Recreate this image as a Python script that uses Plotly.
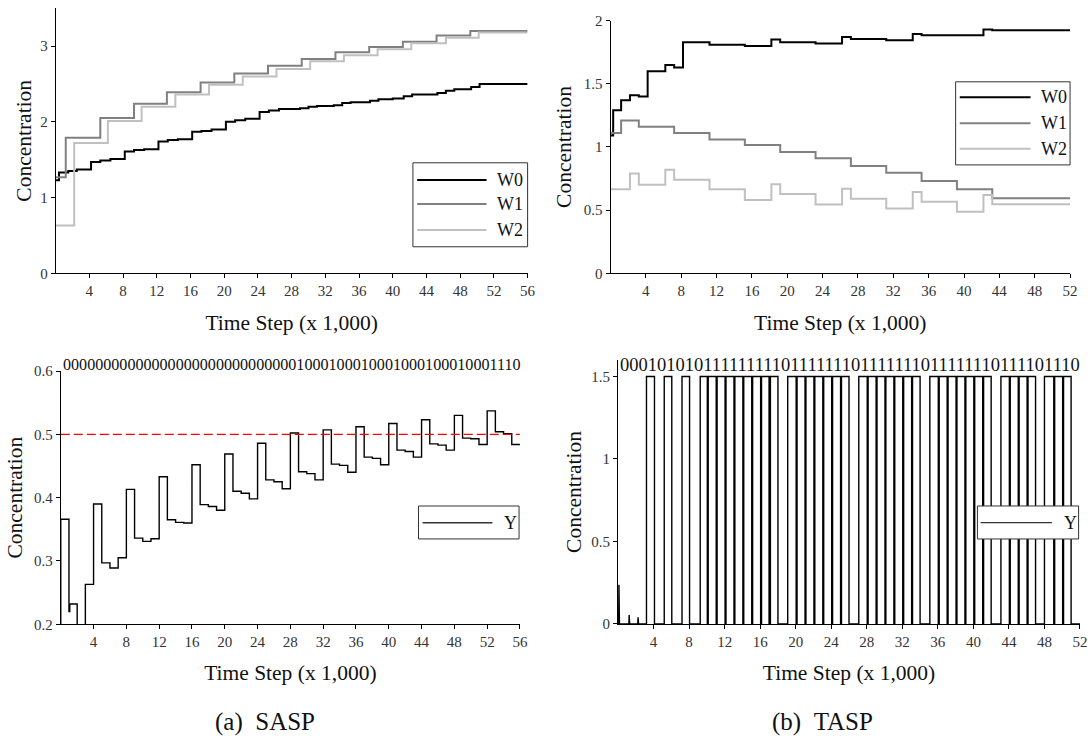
import plotly.graph_objects as go

# ---------------- data ----------------
# (a) SASP, top: weights (step functions, value holds from each time)
sasp_w0_t = [0, 0.4, 1.5, 2.5, 4.2, 5.3, 6.5, 8.2, 9.3, 10.5, 12.2, 13.3, 14.5, 16.2, 17.3, 18.5,
             20.2, 21.3, 22.5, 24.2, 25.3, 26.5, 29.0, 30.0, 31.0, 33.0, 34.0, 35.0, 37.3, 38.3,
             40.0, 41.3, 42.3, 45.3, 46.3, 47.3, 49.3, 50.3, 56]
sasp_w0_v = [1.23, 1.33, 1.35, 1.37, 1.47, 1.49, 1.51, 1.61, 1.63, 1.64, 1.74, 1.76, 1.77, 1.87, 1.88, 1.90,
             2.00, 2.02, 2.04, 2.13, 2.15, 2.17, 2.18, 2.20, 2.21, 2.22, 2.25, 2.26, 2.28, 2.30,
             2.31, 2.34, 2.36, 2.38, 2.41, 2.43, 2.46, 2.50, 2.50]
sasp_w1_t = [0, 1.2, 5.3, 9.3, 13.2, 17.2, 21.2, 25.2, 29.2, 33.2, 37.2, 41.2, 45.2, 49.2, 56]
sasp_w1_v = [1.27, 1.79, 2.05, 2.24, 2.39, 2.52, 2.64, 2.74, 2.83, 2.92, 2.99, 3.06, 3.14, 3.20, 3.20]
sasp_w2_t = [0, 2.2, 6.2, 10.2, 14.2, 18.2, 22.2, 26.2, 30.2, 34.2, 38.2, 42.2, 46.3, 50.2, 56]
sasp_w2_v = [0.63, 1.72, 2.01, 2.20, 2.36, 2.49, 2.60, 2.70, 2.80, 2.88, 2.96, 3.04, 3.11, 3.18, 3.18]

# (b) TASP, top: weights
tasp_w0_t = [0, 0.3, 1.2, 2.2, 3.2, 4.2, 6.2, 7.2, 8.2, 11.2, 15.2, 18.2, 19.2, 23.2, 26.2, 27.2,
             31.2, 34.2, 35.2, 42.2, 43.2, 52]
tasp_w0_v = [1.09, 1.29, 1.37, 1.41, 1.40, 1.60, 1.65, 1.63, 1.83, 1.81, 1.80, 1.85, 1.83, 1.82, 1.87, 1.855,
             1.845, 1.895, 1.885, 1.93, 1.925, 1.925]
tasp_w1_t = [0, 1.2, 3.2, 7.2, 11.2, 15.2, 19.2, 23.2, 27.2, 31.2, 35.2, 39.2, 43.2, 52]
tasp_w1_v = [1.11, 1.21, 1.16, 1.11, 1.06, 1.015, 0.96, 0.91, 0.85, 0.795, 0.73, 0.665, 0.595, 0.595]
tasp_w2_t = [0, 2.2, 3.2, 6.2, 7.2, 11.2, 15.2, 18.2, 19.2, 23.2, 26.2, 27.2, 31.2, 34.2, 35.2, 39.2,
             42.2, 43.2, 52]
tasp_w2_v = [0.665, 0.79, 0.70, 0.82, 0.74, 0.665, 0.58, 0.705, 0.628, 0.545, 0.67, 0.59, 0.512, 0.643,
             0.567, 0.488, 0.62, 0.546, 0.546]

# (a) SASP, bottom: output Y (step function)
sasp_y_t = [0, 0, 1.0, 1.1, 2.0, 3.0, 4, 5, 6, 7, 8, 9, 10, 11, 12, 13, 14, 15, 16, 17, 18, 19, 20,
            21, 22, 23, 24, 25, 26, 27, 28, 29, 30, 31, 32, 33, 34, 35, 36, 37, 38, 39, 40, 41, 42,
            43, 44, 45, 46, 47, 48, 49, 50, 51, 52, 53, 54, 55, 56]
sasp_y_v = [0.10, 0.366, 0.220, 0.232, 0.12, 0.263,
            0.390, 0.297, 0.289, 0.305,
            0.413, 0.336, 0.331, 0.335,
            0.433, 0.365, 0.361, 0.360,
            0.452, 0.389, 0.386, 0.380,
            0.469, 0.410, 0.407, 0.398,
            0.486, 0.428, 0.425, 0.414,
            0.502, 0.441, 0.438, 0.428,
            0.507, 0.453, 0.451, 0.440,
            0.512, 0.464, 0.462, 0.452,
            0.517, 0.475, 0.473, 0.464,
            0.523, 0.485, 0.483, 0.475,
            0.530, 0.494, 0.493, 0.484,
            0.537, 0.504, 0.501, 0.484, 0.484]
sasp_threshold = 0.5
sasp_bits = "000000000000000000000000000001000100010001000100010001110"

# (b) TASP, bottom: output Y pulses
tasp_spike_t = [0.1, 1.25, 2.25]
tasp_spike_v = [0.237, 0.055, 0.04]
tasp_pulse_high = 1.5
tasp_pulse_on = [3.2, 5.2, 7.2,
                 9.25, 10.15, 11.15, 12.15, 13.15, 14.15, 15.15, 16.15, 17.15,
                 19.1, 20.15, 21.15, 22.15, 23.15, 24.15, 25.15,
                 27.1, 28.15, 29.15, 30.15, 31.15, 32.15, 33.15,
                 35.1, 36.15, 37.15, 38.15, 39.15, 40.15, 41.15,
                 43.1, 44.15, 45.15, 46.15,
                 48.0, 49.15, 50.15]
tasp_pulse_off = [4.1, 6.05, 8.05,
                  10.05, 11.05, 12.05, 13.05, 14.05, 15.05, 16.05, 17.0, 18.0,
                  20.05, 21.05, 22.05, 23.05, 24.05, 25.05, 26.0,
                  28.05, 29.05, 30.05, 31.05, 32.05, 33.05, 34.0,
                  36.05, 37.05, 38.05, 39.05, 40.05, 41.05, 42.0,
                  44.05, 45.05, 46.05, 47.0,
                  49.05, 50.05, 51.0]
tasp_end = 52
tasp_bits = "0001010101111111110111111101111111011111110111101110"

x_ticks_sasp = list(range(4, 57, 4))
x_ticks_tasp = list(range(4, 53, 4))

# ---------------- figure ----------------
SERIF = "Liberation Serif"
C_W0, C_W1, C_W2 = "#000000", "#808080", "#c0c0c0"

fig = go.Figure()


def step(x, y, color, width, xa, ya, name):
    fig.add_trace(go.Scatter(x=x, y=y, mode="lines", name=name, showlegend=False,
                             line=dict(color=color, width=width, shape="hv"),
                             xaxis=xa, yaxis=ya))


step(sasp_w0_t, sasp_w0_v, C_W0, 2, "x", "y", "W0")
step(sasp_w1_t, sasp_w1_v, C_W1, 2, "x", "y", "W1")
step(sasp_w2_t, sasp_w2_v, C_W2, 2, "x", "y", "W2")

step(tasp_w0_t, tasp_w0_v, C_W0, 2, "x2", "y2", "W0")
step(tasp_w1_t, tasp_w1_v, C_W1, 2, "x2", "y2", "W1")
step(tasp_w2_t, tasp_w2_v, C_W2, 2, "x2", "y2", "W2")

step(sasp_y_t, sasp_y_v, "#000000", 1.4, "x3", "y3", "Y")
fig.add_trace(go.Scatter(x=[0, 56], y=[sasp_threshold, sasp_threshold], mode="lines",
                         showlegend=False, name="threshold",
                         line=dict(color="#ff0000", width=1.4, dash="9px,4px"),
                         xaxis="x3", yaxis="y3"))

# pulse train for TASP Y
px, py = [0], [0]
for t, h in zip(tasp_spike_t, tasp_spike_v):
    px += [t - 0.03, t, t + 0.06]
    py += [0, h, 0]
for on, off in zip(tasp_pulse_on, tasp_pulse_off):
    px += [on, on, off, off]
    py += [0, tasp_pulse_high, tasp_pulse_high, 0]
px.append(tasp_end)
py.append(0)
fig.add_trace(go.Scatter(x=px, y=py, mode="lines", name="Y", showlegend=False,
                         line=dict(color="#000000", width=1.4), xaxis="x4", yaxis="y4"))

tickfont = dict(family=SERIF, size=15, color="#333333")
titlefont = dict(family=SERIF, size=21.5, color="#111111")


def xax(domain, rng, ticks, anchor, standoff):
    return dict(domain=domain, range=rng, tickvals=ticks, ticktext=[str(v) for v in ticks],
                showline=True, linecolor="#000000", linewidth=1, ticks="outside", ticklen=4,
                tickcolor="#000000", showgrid=False, zeroline=False, tickfont=tickfont,
                automargin=False, anchor=anchor,
                title=dict(text="Time Step (x 1,000)", font=titlefont, standoff=standoff))


def yax(domain, rng, ticks, labels, anchor, standoff):
    return dict(domain=domain, range=rng, tickvals=ticks, ticktext=labels,
                showline=True, linecolor="#000000", linewidth=1, ticks="outside", ticklen=4,
                tickcolor="#000000", showgrid=False, zeroline=False, tickfont=tickfont,
                automargin=False, anchor=anchor,
                title=dict(text="Concentration", font=titlefont, standoff=standoff))


fig.update_layout(
    width=1091, height=736, margin=dict(l=0, r=0, t=0, b=0, autoexpand=False),
    paper_bgcolor="white", plot_bgcolor="white", showlegend=False,
    xaxis=xax([0.0510, 0.4836], [0, 56], x_ticks_sasp, "y", 16),
    yaxis=yax([0.6287, 0.9887], [0, 3.5], [0, 1, 2, 3], ["0", "1", "2", "3"], "x", 2),
    xaxis2=xax([0.5596, 0.9808], [0, 52], x_ticks_tasp, "y2", 16),
    yaxis2=yax([0.6287, 0.9719], [0, 2], [0, 0.5, 1, 1.5, 2], ["0", "0.5", "1", "1.5", "2"], "x2", 6),
    xaxis3=xax([0.0557, 0.4766], [0, 56], x_ticks_sasp, "y3", 15),
    yaxis3=yax([0.1518, 0.4959], [0.2, 0.6], [0.2, 0.3, 0.4, 0.5, 0.6],
               ["0.2", "0.3", "0.4", "0.5", "0.6"], "x3", 5),
    xaxis4=xax([0.5665, 0.9899], [0, 52], x_ticks_tasp, "y4", 15),
    yaxis4=yax([0.1522, 0.5109], [0, 1.6], [0, 0.5, 1, 1.5], ["0", "0.5", "1", "1.5"], "x4", 3),
)

# manual legends (long line samples like the reference)
legends = [
    dict(ax="", box=(0.757, 1.0, 0.100, 0.417), line_x=(0.766, 0.913), text_x=0.931,
         items=[("W0", C_W0, 0.352, 2), ("W1", C_W1, 0.2615, 2), ("W2", C_W2, 0.163, 2)]),
    dict(ax="2", box=(0.751, 1.0, 0.429, 0.758), line_x=(0.760, 0.914), text_x=0.933,
         items=[("W0", C_W0, 0.697, 2), ("W1", C_W1, 0.594, 2), ("W2", C_W2, 0.493, 2)]),
    dict(ax="3", box=(0.779, 0.998, 0.337, 0.467), line_x=(0.788, 0.940), text_x=0.960,
         items=[("Y", "#333333", 0.401, 1.4)]),
    dict(ax="4", box=(0.778, 0.997, 0.322, 0.447), line_x=(0.785, 0.939), text_x=0.961,
         items=[("Y", "#333333", 0.384, 1.4)]),
]
for lg in legends:
    xr, yr = "x%s domain" % lg["ax"], "y%s domain" % lg["ax"]
    x0, x1, y0, y1 = lg["box"]
    fig.add_shape(type="rect", xref=xr, yref=yr, x0=x0, x1=x1, y0=y0, y1=y1,
                  line=dict(color="#333333", width=1), fillcolor="white", layer="above")
    for name, col, yy, w in lg["items"]:
        fig.add_shape(type="line", xref=xr, yref=yr, x0=lg["line_x"][0], x1=lg["line_x"][1],
                      y0=yy, y1=yy, line=dict(color=col, width=w), layer="above")
        fig.add_annotation(xref=xr, yref=yr, x=lg["text_x"], y=yy, text=name, showarrow=False,
                           xanchor="left", yanchor="middle",
                           font=dict(family=SERIF, size=18, color="#111111"))

# bit strings above the bottom plots
fig.add_annotation(xref="x3", yref="y3", x=0, y=0.6, text=sasp_bits, showarrow=False,
                   xanchor="left", yanchor="bottom", yshift=-4,
                   font=dict(family=SERIF, size=16.1, color="#111111"))
fig.add_annotation(xref="x4", yref="y4", x=0, y=1.5, text=tasp_bits, showarrow=False,
                   xanchor="left", yanchor="bottom", yshift=-1,
                   font=dict(family=SERIF, size=18.5, color="#111111"))

# captions
fig.add_annotation(xref="paper", yref="paper", x=264.5 / 1091, y=1 - 722 / 736,
                   text="(a)\u2002SASP", showarrow=False, xanchor="center", yanchor="middle",
                   font=dict(family=SERIF, size=25, color="#111111"))
fig.add_annotation(xref="paper", yref="paper", x=822.7 / 1091, y=1 - 722 / 736,
                   text="(b)\u2002TASP", showarrow=False, xanchor="center", yanchor="middle",
                   font=dict(family=SERIF, size=25, color="#111111"))

fig.write_html("out.html", config={"displayModeBar": False},
               post_script="document.body.style.margin='0px';document.body.style.overflow='hidden';")
